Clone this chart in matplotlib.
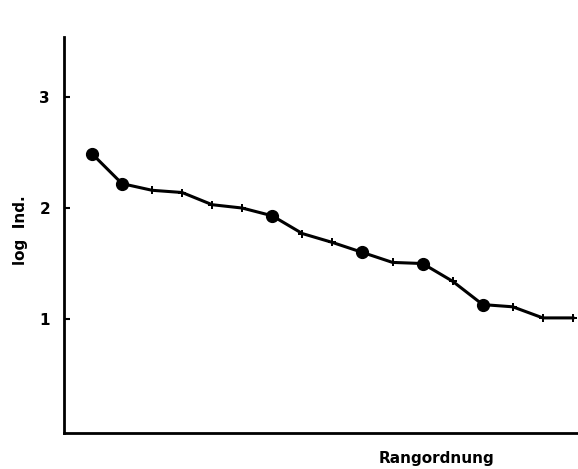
import numpy as np
import matplotlib.pyplot as plt

rank = np.arange(1, 18)
log_ind = [2.49, 2.22, 2.16, 2.14, 2.03, 2.00, 1.93, 1.77, 1.69, 1.60,
           1.51, 1.50, 1.34, 1.13, 1.11, 1.01, 1.01]
# indices that are drawn as big dots, the rest as small crosses
dot_idx = [0, 1, 6, 9, 11, 13]
yticks = [1, 2, 3]

fig = plt.figure(figsize=(5.78, 4.69), dpi=100)
ax = fig.add_axes([0.1107, 0.0768, 0.8893, 0.844])

ax.plot(rank, log_ind, color='black', lw=2.2, zorder=2)
cross_idx = [i for i in range(len(rank)) if i not in dot_idx]
ax.plot(rank[cross_idx], np.array(log_ind)[cross_idx], 'P', color='black',
        ms=6, mew=0, ls='none', zorder=3)
ax.plot(rank[dot_idx], np.array(log_ind)[dot_idx], 'o', color='black',
        ms=8.5, ls='none', zorder=4)

ax.set_xlim(0.07, 17.17)
ax.set_ylim(-0.027, 3.54)
ax.set_xticks([])
ax.set_yticks(yticks)
ax.set_yticklabels([str(t) for t in yticks], fontsize=11, fontweight='bold')
ax.tick_params(axis='y', direction='in', length=4, width=1.5, pad=10)

for s in ['top', 'right']:
    ax.spines[s].set_visible(False)
for s in ['left', 'bottom']:
    ax.spines[s].set_linewidth(2)

fig.text(0.035, 0.51, 'log  Ind.', rotation=90, fontsize=11,
         fontweight='bold', ha='center', va='center')
fig.text(0.755, 0.023, 'Rangordnung', fontsize=11, fontweight='bold',
         ha='center', va='center')

fig.savefig('out.png', dpi=100)
